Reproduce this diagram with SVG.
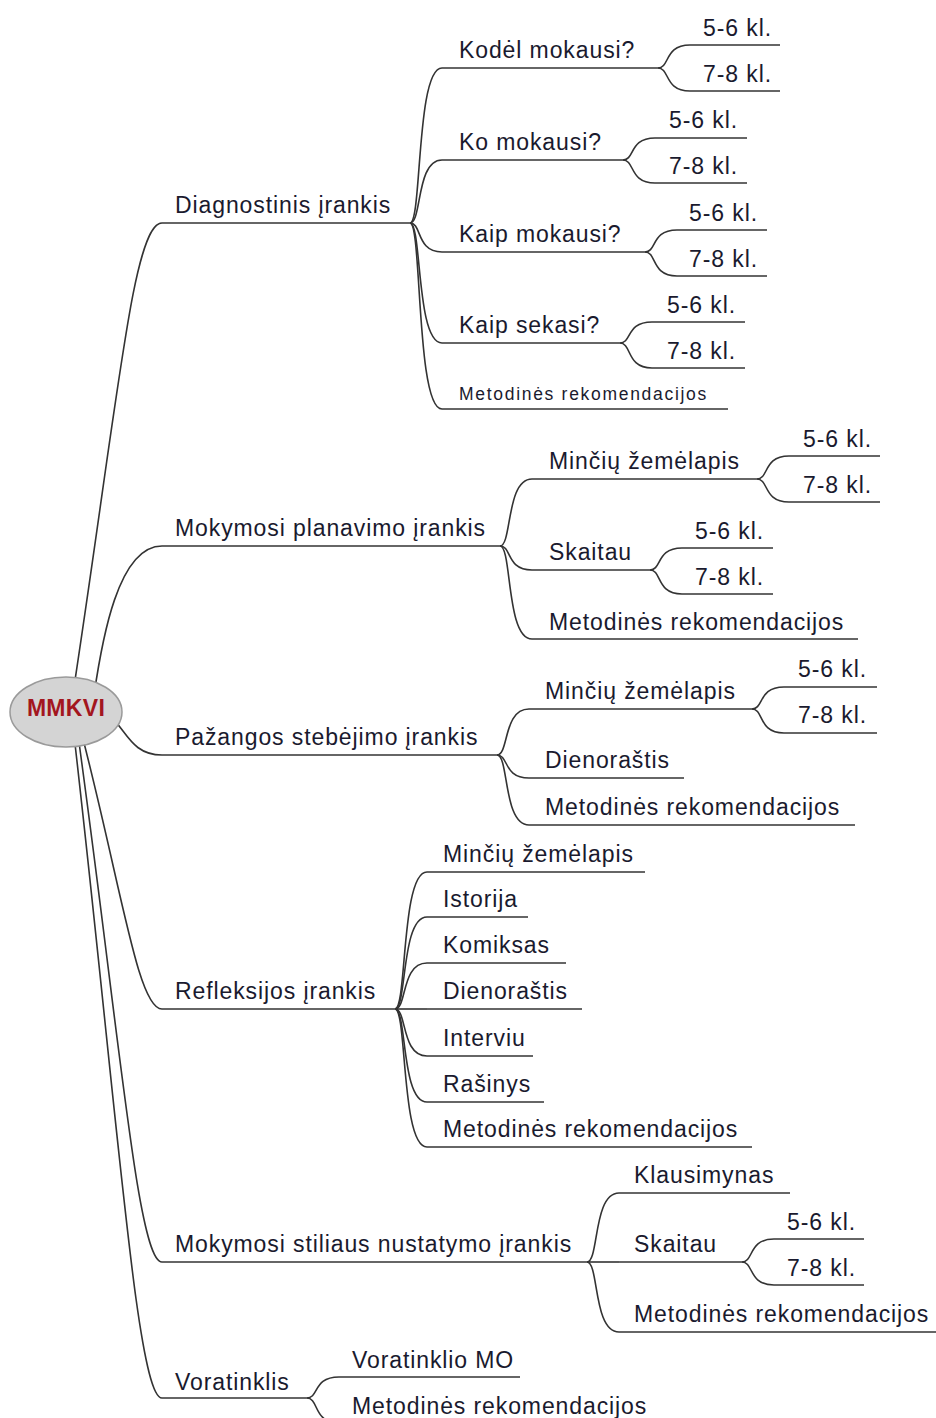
<svg xmlns="http://www.w3.org/2000/svg" width="936" height="1418" viewBox="0 0 936 1418">
<style>
.t{font-family:"Liberation Sans",Arial,sans-serif;font-size:23px;letter-spacing:0.9px;fill:#1a1a2e}
.s{font-family:"Liberation Sans",Arial,sans-serif;font-size:17.5px;letter-spacing:1.7px;fill:#1a1a2e}
.c{fill:none;stroke:#333;stroke-width:1.6}
.u{stroke:#333;stroke-width:1.6}
</style>
<rect width="936" height="1418" fill="#fff"/>
<g id="connectors" class="c">
<path d="M72,700 C118,400 133,223 162,223"/>
<path d="M94,695 C102,640 118,546 162,546"/>
<path d="M100,712 C125,718 125,755 162,755"/>
<path d="M82,735 C122,890 138,1009 162,1009"/>
<path d="M78,735 C120,1040 138,1262 162,1262"/>
<path d="M74,735 C118,1120 137,1398 162,1398"/>
<path d="M410,223 C422,223 416,68 442,68"/>
<path d="M410,223 C422,223 416,160 442,160"/>
<path d="M410,223 C422,223 416,252 442,252"/>
<path d="M410,223 C422,223 416,343 442,343"/>
<path d="M410,223 C422,223 416,409 442,409"/>
<path d="M658,68 C670,68 664,45 690,45"/>
<path d="M658,68 C670,68 664,91 690,91"/>
<path d="M623,160 C635,160 629,138 655,138"/>
<path d="M623,160 C635,160 629,183 655,183"/>
<path d="M645,252 C657,252 651,230 677,230"/>
<path d="M645,252 C657,252 651,276 677,276"/>
<path d="M620,343 C632,343 626,322 652,322"/>
<path d="M620,343 C632,343 626,368 652,368"/>
<path d="M500,546 C512,546 506,479 532,479"/>
<path d="M500,546 C512,546 506,570 532,570"/>
<path d="M500,546 C512,546 506,639 532,639"/>
<path d="M757,479 C769,479 763,456 789,456"/>
<path d="M757,479 C769,479 763,502 789,502"/>
<path d="M650,570 C662,570 656,548 682,548"/>
<path d="M650,570 C662,570 656,594 682,594"/>
<path d="M497,755 C509,755 503,709 529,709"/>
<path d="M497,755 C509,755 503,778 529,778"/>
<path d="M497,755 C509,755 503,825 529,825"/>
<path d="M752,709 C764,709 758,687 784,687"/>
<path d="M752,709 C764,709 758,733 784,733"/>
<path d="M395,1009 C407,1009 401,872 427,872"/>
<path d="M395,1009 C407,1009 401,917 427,917"/>
<path d="M395,1009 C407,1009 401,963 427,963"/>
<path d="M395,1009 H427"/>
<path d="M395,1009 C407,1009 401,1056 427,1056"/>
<path d="M395,1009 C407,1009 401,1102 427,1102"/>
<path d="M395,1009 C407,1009 401,1147 427,1147"/>
<path d="M587,1262 C599,1262 593,1193 619,1193"/>
<path d="M587,1262 H619"/>
<path d="M587,1262 C599,1262 593,1332 619,1332"/>
<path d="M742,1262 C754,1262 748,1239 774,1239"/>
<path d="M742,1262 C754,1262 748,1285 774,1285"/>
<path d="M307,1398 C319,1398 313,1377 339,1377"/>
<path d="M307,1398 C319,1398 313,1423 339,1423"/>
</g>
<g id="root">
<ellipse cx="66" cy="712" rx="56" ry="35" fill="#d4d4d4" stroke="#9a9a9a" stroke-width="1.5"/>
<text x="66" y="716" text-anchor="middle" font-family="'Liberation Sans',Arial,sans-serif" font-size="23" font-weight="bold" letter-spacing="0.3" fill="#a3161e">MMKVI</text>
</g>
<g id="n1"><line class="u" x1="162" y1="223" x2="410" y2="223"/><text class="t" x="175" y="213">Diagnostinis įrankis</text></g>
<g id="n1a"><line class="u" x1="442" y1="68" x2="658" y2="68"/><text class="t" x="459" y="58">Kodėl mokausi?</text></g>
<g id="n1a1"><line class="u" x1="690" y1="45" x2="780" y2="45"/><text class="t" x="703" y="36">5-6 kl.</text></g>
<g id="n1a2"><line class="u" x1="690" y1="91" x2="780" y2="91"/><text class="t" x="703" y="82">7-8 kl.</text></g>
<g id="n1b"><line class="u" x1="442" y1="160" x2="623" y2="160"/><text class="t" x="459" y="150">Ko mokausi?</text></g>
<g id="n1b1"><line class="u" x1="655" y1="138" x2="747" y2="138"/><text class="t" x="669" y="128">5-6 kl.</text></g>
<g id="n1b2"><line class="u" x1="655" y1="183" x2="747" y2="183"/><text class="t" x="669" y="174">7-8 kl.</text></g>
<g id="n1c"><line class="u" x1="442" y1="252" x2="645" y2="252"/><text class="t" x="459" y="242">Kaip mokausi?</text></g>
<g id="n1c1"><line class="u" x1="677" y1="230" x2="767" y2="230"/><text class="t" x="689" y="221">5-6 kl.</text></g>
<g id="n1c2"><line class="u" x1="677" y1="276" x2="767" y2="276"/><text class="t" x="689" y="267">7-8 kl.</text></g>
<g id="n1d"><line class="u" x1="442" y1="343" x2="620" y2="343"/><text class="t" x="459" y="333">Kaip sekasi?</text></g>
<g id="n1d1"><line class="u" x1="652" y1="322" x2="745" y2="322"/><text class="t" x="667" y="313">5-6 kl.</text></g>
<g id="n1d2"><line class="u" x1="652" y1="368" x2="745" y2="368"/><text class="t" x="667" y="359">7-8 kl.</text></g>
<g id="n1e"><line class="u" x1="442" y1="409" x2="728" y2="409"/><text class="s" x="459" y="400">Metodinės rekomendacijos</text></g>
<g id="n2"><line class="u" x1="162" y1="546" x2="500" y2="546"/><text class="t" x="175" y="536">Mokymosi planavimo įrankis</text></g>
<g id="n2a"><line class="u" x1="532" y1="479" x2="757" y2="479"/><text class="t" x="549" y="469">Minčių žemėlapis</text></g>
<g id="n2a1"><line class="u" x1="789" y1="456" x2="880" y2="456"/><text class="t" x="803" y="447">5-6 kl.</text></g>
<g id="n2a2"><line class="u" x1="789" y1="502" x2="880" y2="502"/><text class="t" x="803" y="493">7-8 kl.</text></g>
<g id="n2b"><line class="u" x1="532" y1="570" x2="650" y2="570"/><text class="t" x="549" y="560">Skaitau</text></g>
<g id="n2b1"><line class="u" x1="682" y1="548" x2="773" y2="548"/><text class="t" x="695" y="539">5-6 kl.</text></g>
<g id="n2b2"><line class="u" x1="682" y1="594" x2="773" y2="594"/><text class="t" x="695" y="585">7-8 kl.</text></g>
<g id="n2c"><line class="u" x1="532" y1="639" x2="858" y2="639"/><text class="t" x="549" y="630">Metodinės rekomendacijos</text></g>
<g id="n3"><line class="u" x1="162" y1="755" x2="497" y2="755"/><text class="t" x="175" y="745">Pažangos stebėjimo įrankis</text></g>
<g id="n3a"><line class="u" x1="529" y1="709" x2="752" y2="709"/><text class="t" x="545" y="699">Minčių žemėlapis</text></g>
<g id="n3a1"><line class="u" x1="784" y1="687" x2="877" y2="687"/><text class="t" x="798" y="677">5-6 kl.</text></g>
<g id="n3a2"><line class="u" x1="784" y1="733" x2="877" y2="733"/><text class="t" x="798" y="723">7-8 kl.</text></g>
<g id="n3b"><line class="u" x1="529" y1="778" x2="684" y2="778"/><text class="t" x="545" y="768">Dienoraštis</text></g>
<g id="n3c"><line class="u" x1="529" y1="825" x2="855" y2="825"/><text class="t" x="545" y="815">Metodinės rekomendacijos</text></g>
<g id="n4"><line class="u" x1="162" y1="1009" x2="395" y2="1009"/><text class="t" x="175" y="999">Refleksijos įrankis</text></g>
<g id="n4a"><line class="u" x1="427" y1="872" x2="645" y2="872"/><text class="t" x="443" y="862">Minčių žemėlapis</text></g>
<g id="n4b"><line class="u" x1="427" y1="917" x2="528" y2="917"/><text class="t" x="443" y="907">Istorija</text></g>
<g id="n4c"><line class="u" x1="427" y1="963" x2="566" y2="963"/><text class="t" x="443" y="953">Komiksas</text></g>
<g id="n4d"><line class="u" x1="427" y1="1009" x2="582" y2="1009"/><text class="t" x="443" y="999">Dienoraštis</text></g>
<g id="n4e"><line class="u" x1="427" y1="1056" x2="533" y2="1056"/><text class="t" x="443" y="1046">Interviu</text></g>
<g id="n4f"><line class="u" x1="427" y1="1102" x2="544" y2="1102"/><text class="t" x="443" y="1092">Rašinys</text></g>
<g id="n4g"><line class="u" x1="427" y1="1147" x2="752" y2="1147"/><text class="t" x="443" y="1137">Metodinės rekomendacijos</text></g>
<g id="n5"><line class="u" x1="162" y1="1262" x2="587" y2="1262"/><text class="t" x="175" y="1252">Mokymosi stiliaus nustatymo įrankis</text></g>
<g id="n5a"><line class="u" x1="619" y1="1193" x2="790" y2="1193"/><text class="t" x="634" y="1183">Klausimynas</text></g>
<g id="n5b"><line class="u" x1="619" y1="1262" x2="742" y2="1262"/><text class="t" x="634" y="1252">Skaitau</text></g>
<g id="n5b1"><line class="u" x1="774" y1="1239" x2="864" y2="1239"/><text class="t" x="787" y="1230">5-6 kl.</text></g>
<g id="n5b2"><line class="u" x1="774" y1="1285" x2="864" y2="1285"/><text class="t" x="787" y="1276">7-8 kl.</text></g>
<g id="n5c"><line class="u" x1="619" y1="1332" x2="936" y2="1332"/><text class="t" x="634" y="1322">Metodinės rekomendacijos</text></g>
<g id="n6"><line class="u" x1="162" y1="1398" x2="307" y2="1398"/><text class="t" x="175" y="1390">Voratinklis</text></g>
<g id="n6a"><line class="u" x1="339" y1="1377" x2="520" y2="1377"/><text class="t" x="352" y="1368">Voratinklio MO</text></g>
<g id="n6b"><line class="u" x1="339" y1="1423" x2="660" y2="1423"/><text class="t" x="352" y="1414">Metodinės rekomendacijos</text></g>
</svg>
